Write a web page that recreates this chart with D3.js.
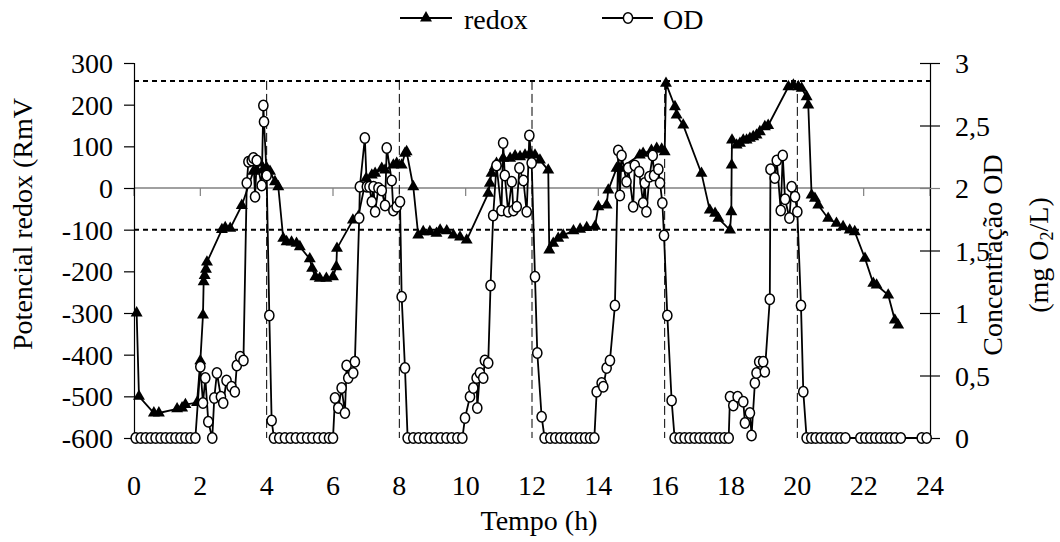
<!DOCTYPE html>
<html>
<head>
<meta charset="utf-8">
<script src="https://cdn.jsdelivr.net/npm/d3@7"></script>
<style>
  html, body { margin: 0; padding: 0; background: #fff; }
  svg { display: block; }
  text { font-family: "Liberation Serif", "Times New Roman", serif; fill: #000; }
</style>
</head>
<body>
<svg id="chart" width="1060" height="542"></svg>
<script>
// Redox potential (mV) over time (h)
const redoxTime = [0.08,0.15,0.6,0.75,1.3,1.45,1.55,1.9,2.0,2.08,2.1,2.13,2.17,2.2,2.65,2.75,2.9,3.25,3.6,3.7,3.8,3.9,4.0,4.1,4.25,4.35,4.5,4.6,4.75,4.9,5.0,5.3,5.37,5.47,5.6,5.8,6.0,6.1,6.12,6.6,6.76,7.0,7.17,7.27,7.47,7.57,7.82,7.92,8.07,8.17,8.22,8.42,8.57,8.72,8.92,9.12,9.23,9.43,9.63,9.83,10.03,10.68,10.73,10.78,10.88,10.93,11.13,11.34,11.49,11.64,11.79,11.94,12.09,12.24,12.49,12.52,12.64,12.79,12.94,13.25,13.45,13.65,13.9,14.0,14.25,14.3,14.55,14.65,15.25,15.35,15.6,15.76,15.91,16.0,16.04,16.31,16.36,16.56,17.11,17.36,17.52,17.62,17.97,18.01,18.02,18.03,18.17,18.27,18.37,18.47,18.57,18.67,18.77,18.87,19.02,19.12,19.73,19.88,20.03,20.13,20.28,20.33,20.43,20.53,20.63,20.93,21.18,21.38,21.58,21.73,22.04,22.29,22.39,22.74,22.94,23.04];
const redoxValue = [-300,-500,-540,-540,-530,-528,-520,-515,-415,-305,-225,-210,-195,-178,-100,-95,-97,-42,40,43,60,45,48,40,15,3,-121,-129,-130,-133,-141,-170,-193,-213,-217,-217,-213,-189,-145,-77,-69,23,31,35,47,43,55,59,55,83,87,3,-113,-105,-105,-109,-101,-103,-113,-118,-125,-13,11,35,51,59,71,71,77,75,79,83,79,67,43,-149,-133,-121,-113,-103,-99,-95,-92,-45,-41,-5,47,47,79,83,90,95,93,87,251,195,175,151,35,-53,-61,-73,-101,-57,55,115,103,107,115,115,119,123,127,135,147,150,243,247,243,239,219,199,-17,-25,-41,-73,-85,-93,-101,-105,-169,-229,-233,-257,-317,-329];

// Dissolved oxygen (mg O2/L) over time (h)
const odTime = [0.05,0.2,0.35,0.5,0.65,0.8,0.95,1.1,1.25,1.4,1.55,1.7,1.85,
  2.0,2.08,2.15,2.24,2.36,2.42,2.5,2.62,2.69,2.79,2.94,3.04,3.1,3.2,3.3,3.4,3.45,3.55,3.6,3.65,3.7,3.85,3.9,3.92,4.0,4.08,4.15,
  4.22,4.38,4.55,4.72,4.88,5.05,5.22,5.38,5.55,5.72,5.88,6.0,
  6.06,6.16,6.26,6.36,6.41,6.46,6.61,6.66,6.79,6.81,6.96,7.02,7.1,7.17,7.22,7.27,7.37,7.47,7.57,7.62,7.77,7.82,7.92,8.02,8.07,8.17,
  8.25,8.42,8.58,8.75,8.92,9.08,9.25,9.42,9.58,9.75,9.9,
  9.98,10.13,10.23,10.33,10.35,10.43,10.53,10.58,10.68,10.75,10.83,10.93,11.08,11.13,11.18,11.28,11.39,11.44,11.54,11.62,11.74,11.84,11.92,11.99,12.09,12.16,12.29,
  12.38,12.55,12.7,12.85,13.0,13.15,13.3,13.45,13.6,13.75,13.88,
  13.95,14.1,14.15,14.25,14.35,14.5,14.6,14.65,14.7,14.85,14.9,15.05,15.1,15.23,15.35,15.4,15.45,15.54,15.64,15.68,15.81,15.86,15.93,15.98,16.08,16.21,
  16.3,16.45,16.6,16.75,16.9,17.05,17.2,17.35,17.5,17.65,17.8,17.93,
  17.97,18.07,18.2,18.37,18.42,18.57,18.62,18.72,18.77,18.85,18.97,19.02,19.17,19.19,19.32,19.38,19.5,19.56,19.63,19.76,19.83,19.93,20.0,20.11,20.18,
  20.28,20.42,20.55,20.7,20.85,21.0,21.15,21.3,21.45,21.9,22.05,22.2,22.35,22.5,22.65,22.8,22.95,23.12,23.75,23.9];
const odValue = [0,0,0,0,0,0,0,0,0,0,0,0,0,
  0.57,0.28,0.48,0.13,0.0,0.32,0.52,0.33,0.28,0.46,0.41,0.37,0.58,0.65,0.62,2.04,2.21,2.22,2.24,1.93,2.22,2.02,2.66,2.53,2.1,0.98,0.14,
  0,0,0,0,0,0,0,0,0,0,0,0,
  0.32,0.24,0.4,0.2,0.58,0.48,0.52,0.61,1.76,2.01,2.4,2.01,2.01,1.89,2.01,1.81,2.0,1.98,1.86,2.32,2.06,1.82,1.85,1.89,1.13,0.56,
  0,0,0,0,0,0,0,0,0,0,0,
  0.16,0.33,0.4,0.48,0.24,0.52,0.48,0.62,0.6,1.22,1.78,2.18,1.82,2.36,2.1,1.81,2.05,1.82,1.85,2.16,2.06,1.81,2.42,2.2,1.29,0.68,0.17,
  0,0,0,0,0,0,0,0,0,0,0,
  0.37,0.44,0.41,0.56,0.62,1.06,2.3,1.94,2.26,2.05,2.16,1.85,2.18,2.13,1.88,2.04,1.81,2.09,2.26,2.1,2.15,2.04,1.88,1.62,0.98,0.3,
  0,0,0,0,0,0,0,0,0,0,0,0,
  0.33,0.26,0.33,0.29,0.12,0.2,0.02,0.44,0.52,0.61,0.61,0.53,1.11,2.15,2.08,2.22,1.82,2.26,1.91,1.76,2.01,1.93,1.81,1.06,0.37,
  0,0,0,0,0,0,0,0,0,0,0,0,0,0,0,0,0,0,0,0];

// Axis ticks and reference lines
const timeTicks = [0,2,4,6,8,10,12,14,16,18,20,22,24];
const redoxTicks = [300,200,100,0,-100,-200,-300,-400,-500,-600];
const odTicks = [0,0.5,1,1.5,2,2.5,3];
const redoxLimits = [257,-100];
const cycleTimes = [4,8,12,16,20];

const FS = 28;
const svg = d3.select("#chart");
const x = d3.scaleLinear().domain([0,24]).range([134,930]);
const yL = d3.scaleLinear().domain([-600,300]).range([438,63]);
const yR = d3.scaleLinear().domain([0,3]).range([438,63]);
const fmtComma = d => String(d).replace(".", ",");

// horizontal time axis drawn at redox = 0
const xAxisG = svg.append("g");
xAxisG.append("line").attr("x1", x(0)).attr("x2", x(24))
  .attr("y1", yL(0)).attr("y2", yL(0)).attr("stroke", "#808080").attr("stroke-width", 1.5);
xAxisG.selectAll("line.tk").data(timeTicks).join("line").attr("class","tk")
  .attr("x1", d => x(d)).attr("x2", d => x(d))
  .attr("y1", yL(0)).attr("y2", yL(0) + 8).attr("stroke", "#808080").attr("stroke-width", 1.2);
svg.append("g").selectAll("text").data(timeTicks).join("text")
  .attr("x", d => x(d)).attr("y", 495).attr("text-anchor", "middle")
  .attr("font-size", FS).text(d => d);
svg.append("text").attr("x", 539).attr("y", 530).attr("text-anchor", "middle")
  .attr("font-size", FS).text("Tempo (h)");

// left axis
const leftAxis = d3.axisLeft(yL).tickValues(redoxTicks).tickSize(10).tickPadding(11)
  .tickFormat(d => String(d));
const lg = svg.append("g").attr("transform", `translate(${x(0)},0)`).call(leftAxis);
lg.attr("font-family", null).attr("font-size", null);
lg.select(".domain").attr("stroke", "#000").attr("stroke-width", 1.2);
lg.selectAll(".tick line").attr("stroke", "#000").attr("stroke-width", 1.2);
lg.selectAll(".tick text").attr("font-size", FS).attr("dy", "0.34em");

// right axis (ticks cross the axis line)
const rightAxis = d3.axisRight(yR).tickValues(odTicks).tickSize(10).tickPadding(15)
  .tickFormat(fmtComma);
const rg = svg.append("g").attr("transform", `translate(${x(24)},0)`).call(rightAxis);
rg.attr("font-family", null).attr("font-size", null);
rg.select(".domain").attr("stroke", "#000").attr("stroke-width", 1.2);
rg.selectAll(".tick line").attr("x1", -10).attr("stroke", d => d === 2 ? "#808080" : "#000").attr("stroke-width", 1.2);
rg.selectAll(".tick text").attr("font-size", FS).attr("dy", "0.34em");

// axis titles
svg.append("text").attr("transform", "translate(32,224) rotate(-90)")
  .attr("text-anchor", "middle").attr("font-size", FS).text("Potencial redox (RmV");
svg.append("text").attr("transform", "translate(1002,255) rotate(-90)")
  .attr("text-anchor", "middle").attr("font-size", FS).text("Concentração OD");
const t2 = svg.append("text").attr("transform", "translate(1048,255) rotate(-90)")
  .attr("text-anchor", "middle").attr("font-size", FS);
t2.append("tspan").text("(mg O");
t2.append("tspan").attr("font-size", 18).attr("dy", 5).text("2");
t2.append("tspan").attr("dy", -5).text("/L)");

// reference lines
svg.append("g").selectAll("line").data(redoxLimits).join("line")
  .attr("x1", x(0)).attr("x2", x(24)).attr("y1", d => yL(d)).attr("y2", d => yL(d))
  .attr("stroke", "#000").attr("stroke-width", 2).attr("stroke-dasharray", "5,4");
svg.append("g").selectAll("line").data(cycleTimes).join("line")
  .attr("x1", d => x(d)).attr("x2", d => x(d)).attr("y1", yL(redoxLimits[0])).attr("y2", yL(-600))
  .attr("stroke", "#000").attr("stroke-width", 1).attr("stroke-dasharray", "9,4");

// redox series
const redox = redoxTime.map((t, i) => [t, redoxValue[i]]);
const tri = d3.symbol().type(d3.symbolTriangle).size(62);
svg.append("path").datum(redox)
  .attr("d", d3.line().x(d => x(d[0])).y(d => yL(d[1])))
  .attr("fill", "none").attr("stroke", "#000").attr("stroke-width", 1.8);
svg.append("g").selectAll("path").data(redox).join("path")
  .attr("d", tri).attr("transform", d => `translate(${x(d[0])},${yL(d[1])})`)
  .attr("fill", "#000");

// dissolved oxygen series
const od = odTime.map((t, i) => [t, odValue[i]]);
svg.append("path").datum(od)
  .attr("d", d3.line().x(d => x(d[0])).y(d => yR(d[1])))
  .attr("fill", "none").attr("stroke", "#000").attr("stroke-width", 1.8);
svg.append("g").selectAll("ellipse").data(od).join("ellipse")
  .attr("cx", d => x(d[0])).attr("cy", d => yR(d[1])).attr("rx", 4.6).attr("ry", 5.2)
  .attr("fill", "#fff").attr("stroke", "#000").attr("stroke-width", 1.5);

// legend
const leg = svg.append("g");
leg.append("line").attr("x1", 400).attr("x2", 452).attr("y1", 18).attr("y2", 18)
  .attr("stroke", "#000").attr("stroke-width", 1.8);
leg.append("path").attr("d", tri).attr("transform", "translate(426,18)").attr("fill", "#000");
leg.append("text").attr("x", 464).attr("y", 29).attr("font-size", FS).text("redox");
leg.append("line").attr("x1", 602).attr("x2", 653).attr("y1", 18).attr("y2", 18)
  .attr("stroke", "#000").attr("stroke-width", 1.8);
leg.append("ellipse").attr("cx", 628).attr("cy", 18).attr("rx", 4.6).attr("ry", 5.2)
  .attr("fill", "#fff").attr("stroke", "#000").attr("stroke-width", 1.5);
leg.append("text").attr("x", 663).attr("y", 29).attr("font-size", FS).text("OD");
</script>
</body>
</html>
